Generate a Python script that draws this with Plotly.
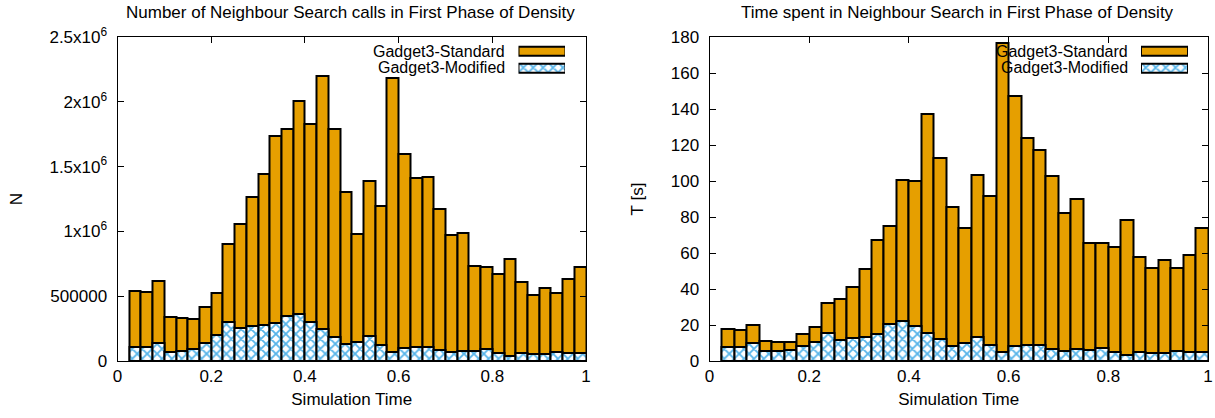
import plotly.graph_objects as go

# Simulation time: left edge of each interval (interval width 0.025)
sim_time = [0.025, 0.05, 0.075, 0.1, 0.125, 0.15, 0.175, 0.2, 0.225, 0.25,
            0.275, 0.3, 0.325, 0.35, 0.375, 0.4, 0.425, 0.45, 0.475, 0.5,
            0.525, 0.55, 0.575, 0.6, 0.625, 0.65, 0.675, 0.7, 0.725, 0.75,
            0.775, 0.8, 0.825, 0.85, 0.875, 0.9, 0.925, 0.95, 0.975]
bin_width = 0.025

calls_standard = [541000, 536000, 619000, 338000, 332000, 327000, 420000, 528000, 902000, 1057000,
                  1265000, 1443000, 1737000, 1789000, 2010000, 1825000, 2201000, 1789000, 1304000, 982000,
                  1392000, 1193000, 2183000, 1595000, 1415000, 1423000, 1173000, 969000, 987000, 732000,
                  729000, 673000, 786000, 611000, 508000, 562000, 523000, 629000, 729000]
calls_modified = [106000, 111000, 137000, 72000, 77000, 93000, 142000, 201000, 299000, 253000,
                  271000, 278000, 291000, 351000, 361000, 299000, 247000, 188000, 128000, 149000,
                  193000, 124000, 70000, 103000, 111000, 111000, 85000, 70000, 80000, 77000,
                  90000, 59000, 41000, 59000, 57000, 57000, 67000, 64000, 64000]

time_standard = [17.6, 17.2, 20.2, 10.9, 10.4, 10.4, 15.0, 19.1, 32.4, 34.3,
                 41.3, 51.3, 67.2, 75.2, 100.4, 100.2, 137.4, 112.6, 85.7, 73.7,
                 103.1, 91.9, 176.5, 147.4, 123.7, 117.2, 102.8, 82.2, 89.8, 65.4,
                 65.4, 63.5, 78.3, 57.6, 51.5, 56.1, 51.9, 58.9, 73.7]
time_modified = [7.6, 8.0, 10.2, 5.6, 5.6, 5.9, 8.3, 10.7, 15.4, 11.7,
                 12.6, 13.5, 15.0, 20.6, 22.4, 19.4, 15.7, 12.2, 8.3, 10.2,
                 13.1, 8.9, 5.2, 8.3, 8.9, 8.9, 6.7, 5.6, 6.5, 6.1,
                 7.4, 5.0, 3.3, 5.0, 4.6, 4.6, 5.6, 5.0, 5.0]

series_names = ["Gadget3-Standard", "Gadget3-Modified"]
left_yticks = [0, 500000, 1000000, 1500000, 2000000, 2500000]
left_yticktext = ["0", "500000", "1x10<sup>6</sup>", "1.5x10<sup>6</sup>", "2x10<sup>6</sup>", "2.5x10<sup>6</sup>"]
right_yticks = [0, 20, 40, 60, 80, 100, 120, 140, 160, 180]
x_ticks = [0, 0.2, 0.4, 0.6, 0.8, 1]
x_ticktext = ["0", "0.2", "0.4", "0.6", "0.8", "1"]

ORANGE = "#E69F00"
BLUE = "#56B4E9"
FONT = "Liberation Sans"
W, H = 1215, 418

def px_x(p):
    return p / W

def px_y(p):
    return 1 - p / H

std_style = dict(marker=dict(color=ORANGE, line=dict(color="black", width=2)))
mod_style = dict(marker=dict(color="white", line=dict(color="black", width=2),
                             pattern=dict(shape="x", fgcolor=BLUE, bgcolor="white", size=7,
                                          solidity=0.45, fgopacity=1)))

fig = go.Figure()
for xa, ya, s_vals, m_vals in [("x", "y", calls_standard, calls_modified),
                                ("x2", "y2", time_standard, time_modified)]:
    fig.add_trace(go.Bar(x=sim_time, y=s_vals, width=bin_width, offset=0, name=series_names[0],
                         xaxis=xa, yaxis=ya, showlegend=False, **std_style))
    fig.add_trace(go.Bar(x=sim_time, y=m_vals, width=bin_width, offset=0, name=series_names[1],
                         xaxis=xa, yaxis=ya, showlegend=False, **mod_style))

# legend swatches (gnuplot-style key: text then sample box on the right)
for xa, ya in [("x3", "y3"), ("x4", "y4")]:
    fig.add_trace(go.Bar(y=[1], x=[1], orientation="h", width=0.52, xaxis=xa, yaxis=ya,
                         showlegend=False, hoverinfo="skip", **std_style))
    fig.add_trace(go.Bar(y=[0], x=[1], orientation="h", width=0.52, xaxis=xa, yaxis=ya,
                         showlegend=False, hoverinfo="skip", **mod_style))

axis_common = dict(showgrid=False, zeroline=False, showline=True, linecolor="black", linewidth=1,
                   mirror="allticks", ticks="inside", ticklen=6, tickcolor="black", automargin=False,
                   tickfont=dict(family=FONT, size=17, color="black"))

left_dom = [px_x(117.5), px_x(586)]
right_dom = [px_x(709.5), px_x(1208)]
y_dom = [px_y(361), px_y(37)]

fig.update_layout(
    width=W, height=H, margin=dict(l=0, r=0, t=0, b=0, autoexpand=False),
    paper_bgcolor="white", plot_bgcolor="white", barmode="overlay", bargap=0,
    font=dict(family=FONT, size=17, color="black"),
    xaxis=dict(domain=left_dom, range=[0, 1], tickvals=x_ticks, ticktext=x_ticktext, anchor="y",
               title=dict(text="Simulation Time", standoff=7, font=dict(size=17)), **axis_common),
    yaxis=dict(domain=y_dom, range=[0, 2500000], tickvals=left_yticks, ticktext=left_yticktext, anchor="x",
               ticklabelstandoff=6,
               title=dict(text="N", standoff=22, font=dict(size=17)), **axis_common),
    xaxis2=dict(domain=right_dom, range=[0, 1], tickvals=x_ticks, ticktext=x_ticktext, anchor="y2",
                title=dict(text="Simulation Time", standoff=7, font=dict(size=17)), **axis_common),
    yaxis2=dict(domain=y_dom, range=[0, 180], tickvals=right_yticks, anchor="x2",
                ticklabelstandoff=6,
                title=dict(text="T [s]", standoff=22, font=dict(size=17)), **axis_common),
    xaxis3=dict(domain=[px_x(518.5), px_x(565)], range=[0, 1], visible=False, anchor="y3", fixedrange=True),
    yaxis3=dict(domain=[px_y(76.4), px_y(42.8)], range=[-0.5, 1.5], visible=False, anchor="x3", fixedrange=True),
    xaxis4=dict(domain=[px_x(1141), px_x(1188)], range=[0, 1], visible=False, anchor="y4", fixedrange=True),
    yaxis4=dict(domain=[px_y(76.4), px_y(42.8)], range=[-0.5, 1.5], visible=False, anchor="x4", fixedrange=True),
)

annotations = [
    dict(text="Number of Neighbour Search calls in First Phase of Density", x=px_x(351), y=px_y(12),
         xref="paper", yref="paper", xanchor="center", yanchor="middle", showarrow=False,
         font=dict(family=FONT, size=17, color="black")),
    dict(text="Time spent in Neighbour Search in First Phase of Density", x=px_x(957), y=px_y(12),
         xref="paper", yref="paper", xanchor="center", yanchor="middle", showarrow=False,
         font=dict(family=FONT, size=17, color="black")),
]
for right_edge in [507, 1130]:
    for name, ypix in zip(series_names, [51, 68]):
        annotations.append(dict(text=name, x=px_x(right_edge), y=px_y(ypix), xref="paper", yref="paper",
                                xanchor="right", yanchor="middle", showarrow=False,
                                font=dict(family=FONT, size=16, color="black")))
fig.update_layout(annotations=annotations)

fig.write_html("out.html")
